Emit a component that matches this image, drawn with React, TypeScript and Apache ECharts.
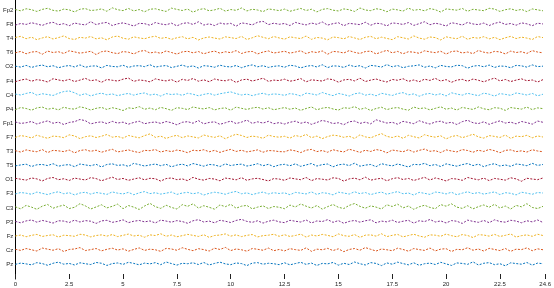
import React, { useEffect, useRef } from "react";
import * as echarts from "echarts";

// channel names, top to bottom
const channels = ["Fp2", "F8", "T4", "T6", "O2", "F4", "C4", "P4", "Fp1", "F7", "T3", "T5", "O1", "F3", "C3", "P3", "Fz", "Cz", "Pz"];

// colour cycle counted from the bottom trace upwards
const palette = ["#0072BD", "#D95319", "#EDB120", "#7E2F8E", "#77AC30", "#4DBEEE", "#A2142F"];

const sampleStep = 0.25; // seconds between samples
const xTicks = 2.5;

// amplitudes (µV) per channel
const fp2 = [3, -5, 8, 2, -9, 4, 11, -2, -7, 6, 1, -12, 5, 9, -3, 0, 7, -8, 14, 2, -4, 10, -6, 3, -11, 5, 8, -1, -9, 12, 4, -3, 6, -14, 2, 9, -5, 1, 11, -7, 3, -2, 13, -6, 5, 0, -10, 7, 2, -4,
  6, -8, 1, 10, -3, 5, -12, 4, 9, -1, -6, 7, 2, -9, 13, 0, -4, 8, 3, -11, 6, 1, -7, 12, -2, 4, -5, 9, 2, -13, 7, 3, -1, 10, -8, 5, 0, -4, 11, 6, -9, 2, 8, -3, 4, -10, 7, 1, -5];
const f8 = [-6, 4, -2, 9, 1, -8, 5, 12, -4, 3, -10, 7, 0, -5, 16, -3, 6, 11, -9, 2, 8, -1, -12, 5, 3, -7, 10, 1, -4, 6, -11, 4, 9, -2, 15, -6, 2, -9, 7, 0, 5, -13, 8, 3, -5, 12, 18, -3, 6, -1,
  4, -9, 11, 2, -5, 7, -1, 14, -6, 3, 9, -10, 5, 1, -3, 12, -7, 6, 2, -11, 8, 4, -2, 10, -8, 3, 15, -4, 6, -1, -12, 9, 3, -6, 11, 1, -3, 7, -9, 5, 13, -2, 4, -7, 8, 2, -10, 6, 1];
const t4 = [5, 12, -3, 7, -9, 2, 10, -5, 4, 15, -2, -8, 6, 1, 11, -4, 3, -10, 8, 14, 0, -6, 9, 2, -3, 7, 13, -1, 5, -7, 3, 10, -4, 6, -11, 2, 8, 1, -5, 9, 4, -2, 12, -8, 3, 16, 6, -3, 11, 2,
  -6, 9, 3, -2, 14, -7, 5, 1, -10, 8, 4, -4, 11, 2, -8, 6, 12, -3, 7, -1, -9, 10, 3, -5, 15, 1, -6, 8, 4, -11, 9, 2, -3, 13, -7, 5, 0, 10, -4, 6, -9, 3, 12, -2, 7, 1, -8, 11, 4];
const t6 = [-3, 6, -9, 2, 5, -12, 8, -1, 4, -7, 10, 3, -5, 0, 7, -14, 4, 9, -2, -8, 5, 1, -10, 6, 12, -4, 2, -6, 9, -1, -11, 3, 7, -3, 5, -9, 1, 8, -5, 4, -2, 11, -7, 3, 6, -10, 2, 9, -4, 1,
  7, -5, 2, 10, -8, 4, -1, 9, -12, 6, 3, -4, 11, 0, -7, 5, 8, -10, 2, 13, -3, 6, -9, 4, 1, -6, 10, 3, -2, 7, -11, 5, 9, -4, 2, -8, 12, 1, -5, 6, 3, -10, 8, -1, 4, -7, 11, 2, -3];
const o2 = [2, -4, 7, -6, 3, 9, -2, 5, -8, 1, 6, -3, 10, -5, 2, 4, -9, 7, 0, -2, 8, -6, 3, 5, -1, 11, -4, 2, 6, -7, 1, 9, -3, 4, -10, 5, 2, -5, 8, 0, -3, 6, -8, 3, 10, -2, 5, -6, 1, 4,
  -5, 8, 3, -9, 1, 6, -3, 11, -7, 4, 2, -6, 9, -1, 5, -10, 7, 3, -4, 12, -2, 6, -8, 1, 4, 10, -5, 3, -9, 7, 0, -3, 8, 5, -11, 2, 6, -2, 9, -6, 3, 1, -8, 7, 4, -4, 10, -1, 2];
const f4 = [-7, 3, 10, -4, 6, 1, -9, 12, 4, -2, 8, -6, 3, 14, -1, 5, -11, 7, 2, -3, 9, 16, -5, 4, 0, -8, 11, 3, -2, 6, -10, 8, 1, 13, -4, 5, -7, 10, 2, -1, 7, -12, 4, 9, -3, 6, 15, -5, 3, 0,
  9, -4, 2, 13, -8, 5, 1, -3, 11, 6, -10, 4, 8, -2, 15, -6, 3, 10, -1, -9, 7, 2, 12, -5, 4, -7, 9, 1, 14, -3, 6, -11, 3, 8, -4, 10, 2, -8, 5, 16, -2, 7, -6, 3, 11, -1, 4, -9, 6];
const c4 = [4, -2, 8, 15, -3, 6, 1, -5, 9, 20, 24, 12, -4, 7, -8, 3, 10, -1, 5, -6, 2, 8, -3, 6, 11, -2, 4, -9, 7, 1, 5, -4, 9, 3, -7, 2, 8, -3, 6, 12, 18, 7, -2, 4, -6, 3, 9, -1, 5, 2,
  -4, 7, 2, -8, 10, 5, -2, 14, 3, -6, 8, 1, -9, 6, 11, -3, 4, -7, 9, 2, -5, 7, 13, -1, 5, -10, 3, 8, -2, 6, -8, 12, 4, -3, 9, 1, -6, 10, 3, -9, 7, 2, -4, 11, 5, -2, 8, -7, 3];
const p4 = [-5, 8, 2, -9, 6, 11, -3, 4, -7, 10, 1, -2, 13, 5, -8, 3, 9, -4, 7, 0, -11, 6, 2, 14, -3, 5, -6, 9, 1, -10, 7, 3, -5, 12, 4, -1, 8, -7, 2, 6, -9, 11, 3, -4, 5, 10, -2, 7, -6, 1,
  8, -3, 5, -10, 2, 12, -6, 4, 9, -1, -8, 7, 3, 14, -4, 6, -11, 2, 10, -5, 4, 8, -2, -9, 11, 1, 6, -7, 3, 13, -3, 5, -8, 9, 2, -4, 12, 0, -6, 7, 4, -10, 8, 3, -2, 11, -5, 6, 1];
const fp1 = [6, -3, 1, 9, -7, 4, 13, -2, 5, -10, 3, 8, 22, 14, -6, 2, 7, -4, 10, -1, 5, -8, 3, 11, -5, 2, 6, -3, 9, 1, -12, 4, 8, -2, 15, -6, 3, 7, -9, 1, 12, -4, 5, 18, -3, 7, -1, 10, -5, 2,
  -7, 4, 11, -2, 6, -9, 3, 16, 8, -4, 1, -11, 7, 12, -3, 5, -6, 20, 9, -1, 4, -8, 10, 3, -5, 14, 2, -7, 6, 11, -2, 4, -10, 8, 17, 1, -4, 7, -9, 3, 13, -1, 5, -6, 9, 2, -8, 12, 4];
const f7 = [-2, 9, 4, -6, 12, 1, -8, 6, 3, -4, 14, 7, -10, 2, 8, -3, 5, 16, -1, 4, -7, 10, 2, -5, 9, 20, -2, 6, -9, 3, 11, -4, 7, 1, -6, 13, 4, -2, 8, -11, 5, 18, 10, -3, 6, 1, -8, 12, 3, -1,
  5, -7, 10, 2, 17, -4, 6, -10, 3, 12, 8, -2, 5, -9, 14, 1, -5, 9, 22, 4, -3, 7, -8, 11, 2, -6, 15, 5, -1, 8, -12, 3, 10, -4, 6, 18, 1, -7, 9, 4, -3, 13, -9, 6, 2, 11, -5, 7, 0];
const t3 = [3, -6, 8, 1, -4, 10, -9, 5, 2, -3, 7, -11, 4, 9, -1, 6, -7, 3, 12, -5, 1, 8, -2, -9, 5, 3, 10, -6, 4, -3, 7, 1, -10, 6, 2, 9, -4, 5, -8, 3, 11, -2, 6, -5, 1, 8, -7, 4, 2, -3,
  -4, 8, 2, -9, 6, 11, -3, 4, -7, 9, 1, -5, 12, 3, -8, 6, -2, 10, 4, -11, 7, 2, -4, 9, -6, 5, 13, -1, 3, -9, 8, 1, -5, 10, 4, -7, 6, -2, 11, 3, -10, 5, 8, -3, 2, -6, 9, 1, -4];
const t5 = [-4, 2, 7, -8, 3, 5, -2, 10, -6, 1, 4, -9, 8, 2, -3, 6, -11, 5, 9, -1, 3, -7, 12, 4, -5, 2, 8, -3, 6, -10, 1, 7, -4, 11, 3, -6, 5, 2, -8, 9, -2, 4, 7, -5, 1, 10, -3, 6, -9, 2,
  6, -3, 9, -7, 2, 11, -5, 4, 8, -10, 3, 7, -2, 13, -6, 1, 5, -9, 10, 2, -4, 8, -1, -11, 6, 3, 12, -3, 5, -8, 9, 1, -6, 4, 11, -2, 7, -9, 3, 10, -5, 2, -7, 8, 4, -3, 12, -1, 5];
const o1 = [7, 1, -5, 9, 3, -10, 6, 12, -2, 4, -7, 8, 2, -4, 11, 5, -9, 3, 14, -1, 6, -6, 2, 10, -3, 7, 4, -11, 5, 9, -2, 3, -8, 13, 1, -5, 6, 2, -9, 8, 4, -3, 11, -6, 3, 7, -1, -10, 5, 2,
  -6, 9, 3, -2, 12, -8, 5, 1, -4, 10, 6, -11, 3, 8, -3, 14, -5, 2, 7, -9, 4, 11, -1, 6, -7, 3, 13, -4, 9, 1, -10, 5, 2, -6, 12, 4, -3, 8, -8, 6, 1, -5, 10, 3, -12, 7, 2, -2, 9];
const f3 = [-3, 6, 2, -5, 9, 1, -7, 4, 11, -2, 5, -9, 3, 8, -4, 6, 1, -6, 10, 2, -3, 7, -8, 4, 12, -1, 5, -4, 2, 9, -6, 3, 7, -2, 5, -10, 1, 8, 3, -5, 6, 13, -2, 4, -7, 2, 9, -3, 5, 0,
  4, -8, 7, 2, -3, 10, -6, 5, 1, -9, 8, 3, -4, 11, -1, 6, -7, 2, 9, -5, 4, 12, -2, 3, -10, 7, 1, -6, 9, 5, -3, 8, -8, 2, 11, -1, 6, -4, 3, 10, -7, 5, 1, -9, 8, 2, -5, 6, 3];
const c3 = [5, -8, 14, 3, -11, 9, 20, -4, 7, 16, -6, 2, 25, 11, -9, 4, 18, -2, 8, 22, -7, 13, 3, -12, 10, 27, 6, -5, 15, 1, -9, 19, 8, 24, -3, 12, 2, -10, 17, 6, 21, -4, 9, 14, -8, 3, 11, -6, 7, 2,
  -7, 16, 4, 23, 9, -3, 13, -10, 6, 20, 2, -6, 14, 26, 8, -4, 11, 3, -9, 18, 7, 22, -2, 10, -11, 5, 15, 1, -7, 19, 9, 24, 3, -5, 12, -8, 6, 17, 2, 21, -3, 10, -9, 14, 5, 25, 1, -6, 8];
const p3 = [2, -7, 5, 11, -3, 8, 1, -9, 6, 4, -5, 10, -2, 7, 3, -11, 5, 9, -4, 2, 12, -6, 3, 8, -1, 5, -8, 10, 4, -3, 7, 1, -10, 6, 13, -2, 4, -7, 9, 3, -5, 8, 15, 2, -4, 6, -9, 3, 10, -1,
  -6, 9, 3, -2, 11, -8, 5, 1, 13, -4, 7, -10, 2, 8, -3, 6, 12, -7, 4, -1, 10, -5, 3, 9, -9, 6, 1, 14, -2, 5, -8, 7, 3, -11, 10, 2, -4, 8, -6, 12, 1, -3, 9, 4, -7, 6, -1, 11, -5];
const fz = [-1, 5, -6, 3, 9, -4, 2, 7, -8, 4, 1, -3, 10, 5, -7, 2, 6, -2, 8, -5, 3, 11, -1, 4, -9, 6, 2, 13, -3, 5, -6, 1, 9, 3, -4, 7, -10, 2, 5, 12, -2, 6, -5, 3, 8, -7, 1, 4, 10, -3,
  7, -4, 2, 11, -8, 5, -1, 9, 3, -6, 12, 1, -3, 8, -10, 4, 6, -2, 13, -5, 3, 9, -7, 2, 10, -1, -9, 6, 4, -3, 11, 1, -6, 8, 2, -11, 7, 5, -2, 9, -4, 3, 12, -8, 1, 6, -3, 10, 2];
const cz = [4, -3, 9, 1, -7, 12, 5, -2, 8, -10, 3, 6, 15, -4, 2, 9, -6, 4, 11, -1, 7, -8, 3, 13, -3, 5, 1, -9, 10, 6, -2, 14, 4, -5, 8, 2, -7, 11, 3, 16, -4, 6, 1, -8, 9, 4, -2, 12, -5, 3,
  -6, 8, 2, -3, 13, -9, 5, 1, 10, -4, 7, -11, 3, 9, -2, 15, 4, -7, 6, 1, -5, 11, 3, -8, 9, 2, -3, 12, -6, 5, 8, -10, 4, 1, 14, -2, 6, -7, 10, 3, -4, 9, -9, 5, 2, 13, -5, 7, 1];
const pz = [-2, 6, 1, -5, 9, 3, -8, 5, 12, -1, 4, -6, 8, 2, -3, 10, 5, -9, 3, 7, -2, 11, 4, -5, 6, 1, 9, -4, 13, 3, -7, 5, 2, 8, -3, 10, -6, 4, 12, 1, -4, 7, 3, -10, 6, 9, -1, 5, 2, -4,
  8, -5, 3, 11, -2, 6, -9, 4, 1, 10, -7, 5, -3, 13, 2, -6, 9, 4, -10, 7, -1, 12, 3, -5, 8, -8, 2, 6, -3, 11, 1, -9, 7, 4, -2, 14, -6, 5, 9, -4, 2, -11, 8, 3, -1, 10, -7, 6, 2];

const signals = [fp2, f8, t4, t6, o2, f4, c4, p4, fp1, f7, t3, t5, o1, f3, c3, p3, fz, cz, pz];

const rowSpacing = 90; // µV between baselines

export default function App() {
  const ref = useRef<HTMLDivElement>(null);
  useEffect(() => {
    if (!ref.current) return;
    const chart = echarts.init(ref.current, undefined, { renderer: "svg" });
    const n = channels.length;
    const baselines = channels.map((_, i) => (n - 1 - i) * rowSpacing);
    const series = signals.map((sig, i) => {
      const rowFromBottom = n - 1 - i;
      const c = palette[rowFromBottom % palette.length];
      return {
        name: channels[i],
        type: "line",
        data: sig.map((v, k) => [k * sampleStep, v + baselines[i]]),
        showSymbol: false,
        clip: false,
        lineStyle: { width: 1, color: c, type: [2, 1.5] },
        itemStyle: { color: c },
      };
    });
    chart.setOption({
      animation: false,
      grid: { left: 11, right: 1, top: 0, bottom: 9 },
      xAxis: {
        type: "value",
        min: 0,
        max: 24.6,
        interval: xTicks,
        axisLine: { show: false, onZero: false },
        axisTick: { show: true, inside: true, length: 5, lineStyle: { color: "#222" } },
        axisLabel: { fontSize: 6, color: "#222", margin: 2, fontFamily: "sans-serif" },
        splitLine: { show: false },
      },
      yAxis: {
        type: "value",
        min: -1.06 * rowSpacing,
        max: 18.71 * rowSpacing,
        axisLine: { show: true, onZero: false, lineStyle: { color: "#000", width: 1 } },
        axisTick: { show: false },
        splitLine: { show: false },
        axisLabel: {
          fontSize: 6,
          color: "#222",
          margin: 2,
          fontFamily: "sans-serif",
          customValues: baselines,
          formatter: (v: number) => {
            const idx = n - 1 - Math.round(v / rowSpacing);
            return channels[idx] ?? "";
          },
        },
      },
      series,
    });
    return () => chart.dispose();
  }, []);
  return <div ref={ref} style={{ position: "fixed", left: 0, top: 0, width: 554, height: 288 }} />;
}
